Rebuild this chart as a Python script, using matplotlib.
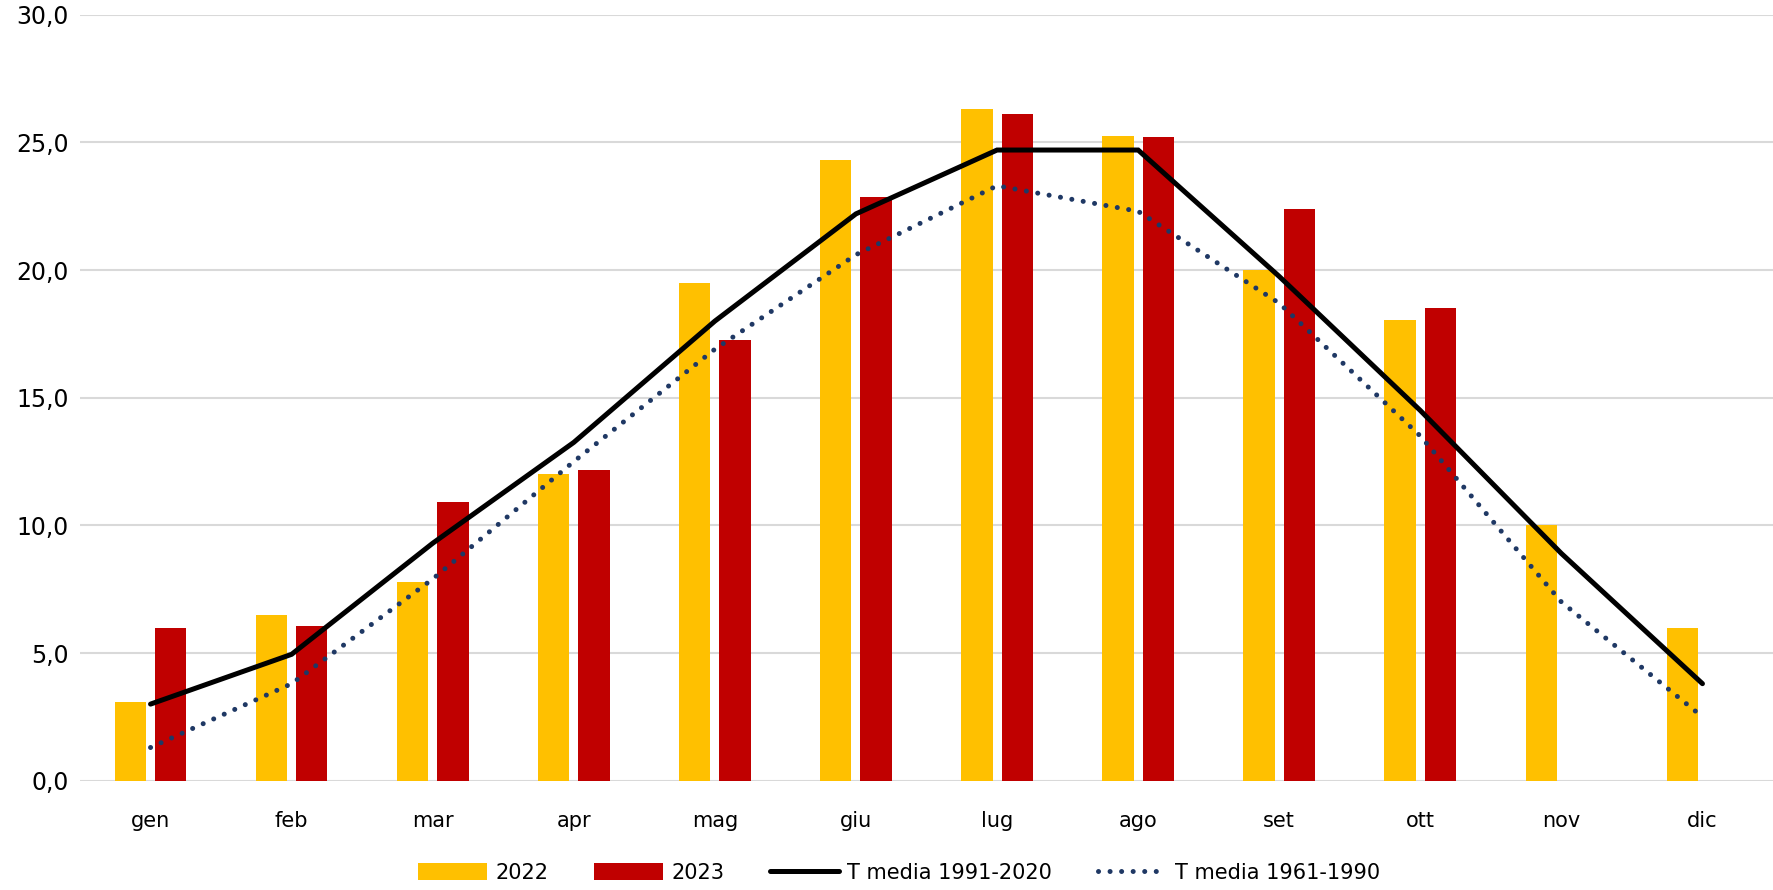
import numpy as np
import matplotlib
matplotlib.use("Agg")
import matplotlib.pyplot as plt

# Monthly mean temperatures
mesi = ["gen", "feb", "mar", "apr", "mag", "giu", "lug", "ago", "set", "ott", "nov", "dic"]
t_2022 = [3.1, 6.5, 7.8, 12.0, 19.5, 24.3, 26.3, 25.25, 20.0, 18.05, 10.0, 6.0]
t_2023 = [6.0, 6.05, 10.9, 12.15, 17.25, 22.85, 26.1, 25.2, 22.4, 18.5, np.nan, np.nan]
t_1991_2020 = [3.0, 4.95, 9.3, 13.25, 18.0, 22.2, 24.7, 24.7, 19.75, 14.5, 8.9, 3.8]
t_1961_1990 = [1.3, 3.8, 7.9, 12.5, 16.9, 20.6, 23.3, 22.3, 18.7, 13.5, 7.0, 2.5]

plt.rcParams["font.family"] = ["DejaVu Sans"]

fig = plt.figure(figsize=(17.73, 8.90), dpi=100)
ax = fig.add_axes([80 / 1773, 109.3 / 890, 1693 / 1773, 766 / 890])

x = np.arange(len(mesi))
w = 0.222
off = 0.143

b1 = ax.bar(x - off, t_2022, width=w, color="#FFC000", label="2022", zorder=2)
b2 = ax.bar(x + off, t_2023, width=w, color="#C00000", label="2023", zorder=2)
l1, = ax.plot(x, t_1991_2020, color="black", lw=3.6, solid_capstyle="round",
              solid_joinstyle="miter", label="T media 1991-2020", zorder=3)
l2, = ax.plot(x, t_1961_1990, color="#1F3864", lw=3.6, linestyle=(0, (0.01, 2.3)),
              dash_capstyle="round", label="T media 1961-1990", zorder=3)

ax.set_xlim(-0.5, len(mesi) - 0.5)
ax.set_ylim(0, 30)
ax.set_yticks(np.arange(0, 31, 5))
ax.set_yticklabels([f"{v:.1f}".replace(".", ",") for v in np.arange(0, 31, 5)], fontsize=17)
ax.set_xticks(x)
ax.set_xticklabels(mesi, fontsize=15)
ax.tick_params(axis="y", length=0, pad=8)
ax.tick_params(axis="x", length=0, pad=22)

ax.grid(axis="y", color="#D9D9D9", lw=1.5, zorder=0)
ax.set_axisbelow(True)
for s in ax.spines.values():
    s.set_visible(False)

fig.legend([b1, b2, l1, l2], ["2022", "2023", "T media 1991-2020", "T media 1961-1990"],
           loc="center", bbox_to_anchor=(899 / 1773, 17 / 890), ncol=4, frameon=False,
           fontsize=15, handlelength=3.3, handleheight=0.9, handletextpad=0.4,
           columnspacing=2.2)

fig.savefig("out.png", dpi=100)
